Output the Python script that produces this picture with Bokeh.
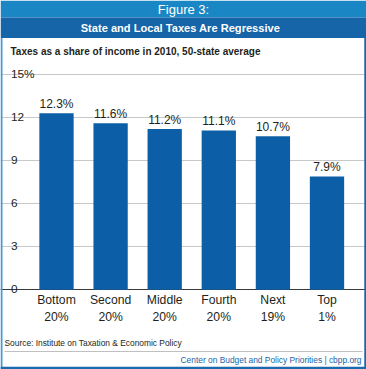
from bokeh.plotting import figure
from bokeh.models import Range1d, FixedTicker, Grid, ColumnDataSource
from bokeh.core.properties import value
from bokeh.embed import file_html
from bokeh.resources import INLINE

# ---------------- data ----------------
categories = ["Bottom\n20%", "Second\n20%", "Middle\n20%", "Fourth\n20%", "Next\n19%", "Top\n1%"]
tax_share = [12.3, 11.6, 11.2, 11.1, 10.7, 7.9]
y_ticks = [0, 3, 6, 9, 12, 15]
y_tick_labels = ["0", "3", "6", "9", "12", "15%"]
fig_label = "Figure 3:"
title_text = "State and Local Taxes Are Regressive"
subtitle_text = "Taxes as a share of income in 2010, 50-state average"
source_text = "Source: Institute on Taxation & Economic Policy"
credit_text = "Center on Budget and Policy Priorities | cbpp.org"

# ---------------- layout (reference pixels) ----------------
W, H = 366, 369
FONT = "Liberation Sans"
BAR = "#0c5fa7"
BAND1 = "#1a87c4"
BAND2 = "#1565a8"
TXT = "#231f20"

sp = 54.1                         # pixels per category
x_start = -56 / sp                # first category centre at x = 56
x_end = x_start + W / sp

F_T = 74.0                        # pixel row of value 15
F_B = 289.3                       # pixel row of value 0
ppy = (F_B - F_T) / 15.0
y_start = (F_B - H) / ppy
y_end = F_B / ppy


def X(px):
    return x_start + px / sp


def Y(py):
    return (F_B - py) / ppy


p = figure(width=W, height=H, output_backend="svg", toolbar_location=None,
           x_range=Range1d(x_start, x_end), y_range=Range1d(y_start, y_end),
           x_axis_location=None, y_axis_location=None, title=None,
           min_border=0, min_border_left=0, min_border_right=0,
           min_border_top=0, min_border_bottom=0)
p.outline_line_color = None
p.background_fill_color = "white"
p.border_fill_color = "white"
for g in list(p.xgrid) + list(p.ygrid):
    g.visible = False

idx = list(range(len(categories)))
src = ColumnDataSource(dict(x=idx, top=tax_share, cat=categories,
                            label=[f"{v:.1f}%" for v in tax_share]))

# horizontal gridlines and baseline
p.add_layout(Grid(dimension=1, ticker=FixedTicker(ticks=y_ticks), bounds=(X(36), X(353)),
                  grid_line_color="#c8c8c8", grid_line_width=1))
p.add_layout(Grid(dimension=1, ticker=FixedTicker(ticks=[0]), bounds=(X(29), X(353)),
                  grid_line_color="#3a3a3a", grid_line_width=1))

# bars and value labels
p.vbar(x="x", top="top", bottom=0, width=0.634, source=src, fill_color=BAR, line_color=None)
p.text(x="x", y="top", text="label", source=src, text_align="center",
       text_baseline="bottom", y_offset=-2, text_font=value(FONT),
       text_font_size="12px", text_color=TXT)

# category labels
p.text(x="x", y=0, text="cat", source=src, text_align="center", text_baseline="top",
       y_offset=3, text_font=value(FONT), text_font_size="12.2px",
       text_line_height=1.25, text_color=TXT)

# y tick labels
tick_src = ColumnDataSource(dict(y=y_ticks, t=y_tick_labels))
p.text(x=X(10.5), y="y", text="t", source=tick_src, text_align="left",
       text_baseline="middle", y_offset=-1, text_font=value(FONT), text_font_size="11.8px",
       text_color=TXT)


# header bands, frame border, separator
def box(x0, x1, y0, y1, color):
    p.quad(left=[X(x0)], right=[X(x1)], top=[Y(y0)], bottom=[Y(y1)],
           fill_color=color, line_color=None)


box(0, 366, 0, 17, BAND1)
box(0, 366, 17, 37.5, BAND2)
box(0, 2, 37.5, 369, "#4a98d2")
box(363.8, 366, 37.5, 369, BAND2)
box(0, 366, 366.3, 369, "#1a6ab0")
box(4, 362, 350.6, 351.6, "#c0c0c0")


def lab(x, y, text, size, color, align="left", bold=False):
    p.text(x=[X(x)], y=[Y(y)], text=[text], text_align=align, text_baseline="middle",
           text_font=value(FONT), text_font_size=f"{size}px", text_color=color,
           text_font_style="bold" if bold else "normal")


lab(183, 8.8, fig_label, 13, "white", "center")
lab(180, 27.5, title_text, 11.1, "white", "center", bold=True)
lab(10, 51, subtitle_text, 10.0, TXT, "left", bold=True)
lab(4, 342.7, source_text, 8.4, TXT, "left")
lab(361, 359.8, credit_text, 8.4, "#1a63a8", "right")

open("out.html", "w").write(file_html(p, INLINE))
